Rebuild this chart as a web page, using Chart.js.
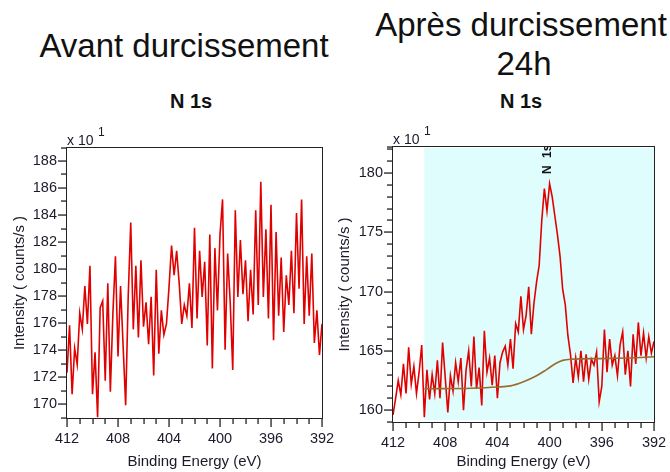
<!DOCTYPE html>
<html>
<head>
<meta charset="utf-8">
<script src="https://cdn.jsdelivr.net/npm/chart.js@4.4.1/dist/chart.umd.min.js"></script>
<style>
  html, body { margin: 0; padding: 0; background: #fff; }
  body { width: 670px; height: 472px; position: relative; overflow: hidden;
         font-family: "Liberation Sans", Arial, sans-serif; color: #111; }
  .t { position: absolute; white-space: nowrap; line-height: 1; transform: translateX(-50%); }
  .big { font-size: 33px; }
  .sub { font-size: 20px; font-weight: bold; }
  .mult { position: absolute; white-space: nowrap; line-height: 1; font-size: 14px; color: #1a1a2a; }
  .mult span { position: absolute; font-size: 12px; left: 31px; top: -7px; }
  canvas { position: absolute; top: 120px; display: block; }
  .frame { position: absolute; box-sizing: border-box; border: 1.5px solid #222; pointer-events: none; }
</style>
</head>
<body>
  <div class="t big" style="left:184px; top:29px;">Avant durcissement</div>
  <div class="t big" style="left:521px; top:8px;">Après durcissement</div>
  <div class="t big" style="left:524px; top:47px;">24h</div>
  <div class="t sub" style="left:191px; top:91px;">N 1s</div>
  <div class="t sub" style="left:521px; top:91px;">N 1s</div>

  <canvas id="avant" width="335" height="352" style="left:0px;"></canvas>
  <canvas id="apres" width="335" height="352" style="left:335px;"></canvas>

  <div class="mult" style="left:67px; top:133px;">x 10<span>1</span></div>
  <div class="mult" style="left:393px; top:132px;">x 10<span>1</span></div>

<script>
// Binding energy grid of the N 1s scans (eV), 0.2 eV steps from 412 down to 392
const energyStart = 412;
const energyStep = 0.2;
const pointCount = 101;
const bindingEnergy = Array.from({ length: pointCount }, (_, i) => +(energyStart - energyStep * i).toFixed(1));

// Intensity (counts/s, x 10^1) before curing
const intensityAvant = [
  172.0, 175.5, 170.4, 173.8, 172.6, 176.4, 175.2, 178.4, 175.6, 179.9,
  170.4, 173.5, 168.7, 176.8, 177.3, 171.4, 178.6, 170.6, 176.4, 180.6,
  173.2, 178.4, 174.0, 169.6, 177.6, 183.1, 175.2, 179.9, 174.6, 180.3,
  175.4, 177.2, 174.1, 177.6, 171.8, 179.6, 173.4, 176.6, 174.8, 175.6,
  178.3, 181.4, 179.2, 181.0, 178.6, 175.6, 177.0, 176.2, 178.6, 175.3,
  182.7, 176.0, 181.0, 177.6, 180.2, 174.0, 182.2, 172.3, 181.2, 176.6,
  182.2, 184.8, 173.7, 180.8, 177.2, 172.2, 184.0, 177.6, 181.8, 177.8,
  180.3, 175.8, 179.6, 176.3, 184.0, 177.0, 186.1, 177.6, 182.6, 176.0,
  184.4, 174.4, 182.4, 176.2, 180.5, 175.0, 179.2, 177.0, 181.0, 176.4,
  183.8, 178.2, 184.8, 175.6, 180.6, 176.2, 180.8, 174.2, 176.6, 173.3,
  175.6
];

// Intensity (counts/s, x 10^1) after 24 h curing
const intensityApres = [
  159.2, 160.6, 162.1, 160.9, 163.5, 161.0, 164.9, 161.8, 163.3, 161.0,
  162.8, 165.1, 159.0, 163.0, 160.5, 162.6, 161.0, 163.8, 160.6, 165.3,
  162.4, 159.4, 162.5, 161.2, 163.6, 162.0, 164.0, 159.6, 163.0, 164.6,
  161.6, 165.8, 161.4, 163.2, 160.0, 166.3, 162.8, 164.0, 161.7, 164.2,
  160.6, 163.6, 164.5, 165.0, 163.4, 165.6, 163.1, 166.9, 166.2, 169.2,
  166.4, 167.6, 170.0, 166.0, 168.6, 170.4, 171.8, 175.6, 178.3, 176.4,
  178.7, 177.6, 176.0, 174.4, 172.6, 169.8, 168.5, 165.9, 164.3, 161.9,
  164.0, 162.4, 164.6, 162.0, 164.3, 162.2, 163.9, 163.4, 164.5, 160.3,
  161.6, 166.4, 162.8, 165.6, 163.4, 164.2, 162.5, 165.1, 166.2, 162.6,
  164.6, 161.6, 166.0, 163.5, 167.0, 164.2, 166.1, 164.0, 165.8, 164.4,
  165.4
];

// Shirley-type background under the N 1s peak
const backgroundEnergy = [409.6, 406.0, 404.0, 403.0, 402.0, 401.0, 400.4, 400.0, 399.5, 399.0, 398.4, 396.0, 394.0, 392.0];
const backgroundIntensity = [161.4, 161.45, 161.55, 161.65, 162.0, 162.5, 162.9, 163.2, 163.55, 163.8, 163.9, 163.95, 164.0, 164.1];

// Fitting region and peak marker
const regionStart = 409.6;
const peakPosition = 400;
const peakName = ['N', '1s'];

// X tick labels and axis ranges
const energyLabels = [412, 408, 404, 400, 396, 392];
const avantRange = { min: 168.65, max: 188.6 };
const apresRange = { min: 158.6, max: 181.8 };

const FONT = '"Liberation Sans", Arial, sans-serif';
const INK = '#1a1a2a';
const FRAME = '#222222';

function toPoints(xs, ys) {
  return xs.map((x, i) => ({ x, y: ys[i] }));
}

const isEnergyLabel = v => energyLabels.includes(Math.round(v));

// Outward tick marks (long for labelled values), shaded region and peak tag
function framePlugin(cfg) {
  return {
    id: 'plotFrame',
    beforeDatasetsDraw(chart) {
      if (cfg.region == null) return;
      const { ctx, chartArea: a } = chart;
      const x0 = chart.scales.x.getPixelForValue(cfg.region);
      ctx.save();
      ctx.fillStyle = '#e0fdfd';
      ctx.fillRect(x0, a.top + 1, a.right - x0, a.bottom - a.top - 3);
      ctx.restore();
    },
    afterDatasetsDraw(chart) {
      const ctx = chart.ctx;
      const a = chart.chartArea;
      const xs = chart.scales.x;
      const ys = chart.scales.y;
      ctx.save();
      ctx.fillStyle = FRAME;
      for (const t of xs.ticks) {
        const px = Math.round(xs.getPixelForValue(t.value));
        const len = isEnergyLabel(t.value) ? 9 : 6;
        ctx.fillRect(px - 0.6, a.bottom, 1.3, len);
      }
      for (const t of ys.ticks) {
        const py = Math.round(ys.getPixelForValue(t.value));
        const len = cfg.yMajor(t.value) ? 9 : 6;
        ctx.fillRect(a.left - len, py - 0.6, len, 1.3);
      }
      if (cfg.peak) {
        const px = xs.getPixelForValue(cfg.peak.value);
        ctx.beginPath();
        ctx.rect(a.left, a.top, a.right - a.left, a.bottom - a.top);
        ctx.clip();
        ctx.translate(px + 1, a.top);
        ctx.rotate(-Math.PI / 2);
        ctx.fillStyle = '#111';
        ctx.font = 'bold 12px ' + FONT;
        ctx.textAlign = 'left';
        ctx.textBaseline = 'alphabetic';
        ctx.fillText(cfg.peak.text[0], -27, 0);
        ctx.fillText(cfg.peak.text[1], -11, 0);
      }
      ctx.restore();
    }
  };
}

function makeChart(id, cfg) {
  const datasets = [{
    data: toPoints(bindingEnergy, cfg.values),
    borderColor: '#e00000',
    borderWidth: 1.6,
    pointRadius: 0,
    tension: 0,
    order: 2
  }];
  if (cfg.background) {
    datasets.push({
      data: toPoints(backgroundEnergy, backgroundIntensity),
      borderColor: '#9a6a2e',
      borderWidth: 1.6,
      pointRadius: 0,
      cubicInterpolationMode: 'monotone',
      order: 1
    });
  }
  const canvas = document.getElementById(id);
  const chart = new Chart(canvas, {
    type: 'line',
    data: { datasets },
    options: {
      responsive: false,
      animation: false,
      events: [],
      layout: { padding: cfg.padding },
      plugins: {
        legend: { display: false },
        tooltip: { enabled: false }
      },
      scales: {
        x: {
          type: 'linear',
          reverse: true,
          min: 392,
          max: 412,
          bounds: 'data',
          grid: { display: false, drawTicks: false },
          border: { display: false },
          ticks: {
            stepSize: 1,
            autoSkip: false,
            maxRotation: 0,
            includeBounds: false,
            padding: 12,
            color: INK,
            font: { family: FONT, size: 14.5 },
            callback: v => isEnergyLabel(v) ? String(Math.round(v)) : ''
          },
          title: {
            display: true,
            text: 'Binding Energy (eV)',
            color: INK,
            font: { family: FONT, size: 15 },
            padding: { top: 0, bottom: 1 }
          },
          afterFit: s => { s.height = cfg.xHeight; s.paddingLeft = 0; s.paddingRight = 0; }
        },
        y: {
          type: 'linear',
          min: cfg.range.min,
          max: cfg.range.max,
          bounds: 'data',
          grid: { display: false, drawTicks: false },
          border: { display: false },
          ticks: {
            stepSize: 1,
            autoSkip: false,
            includeBounds: false,
            padding: 10,
            color: INK,
            font: { family: FONT, size: 14.5 },
            callback: v => cfg.yMajor(v) ? String(Math.round(v)) : ''
          },
          title: {
            display: true,
            text: 'Intensity ( counts/s )',
            color: INK,
            font: { family: FONT, size: 15 },
            padding: cfg.yTitlePad
          },
          afterFit: s => { s.width = cfg.yWidth; s.paddingTop = 0; s.paddingBottom = 0; }
        }
      }
    },
    plugins: [framePlugin(cfg)]
  });

  // Box round the plotting area, placed from the layout Chart.js computed
  const a = chart.chartArea;
  const box = document.createElement('div');
  box.className = 'frame';
  box.style.left = (canvas.offsetLeft + a.left - 0.75) + 'px';
  box.style.top = (canvas.offsetTop + a.top - 0.75) + 'px';
  box.style.width = (a.right - a.left + 1.5) + 'px';
  box.style.height = (a.bottom - a.top + 1.5) + 'px';
  document.body.appendChild(box);
  return chart;
}

makeChart('avant', {
  values: intensityAvant,
  range: avantRange,
  yMajor: v => Math.round(v) % 2 === 0,
  padding: { left: 6, right: 13, top: 28, bottom: 0 },
  yWidth: 61,
  xHeight: 54,
  yTitlePad: { top: 5, bottom: 0 }
});

makeChart('apres', {
  values: intensityApres,
  range: apresRange,
  yMajor: v => Math.round(v) % 5 === 0,
  background: true,
  region: regionStart,
  peak: { value: peakPosition, text: peakName },
  padding: { left: 1, right: 16, top: 27, bottom: 0 },
  yWidth: 57,
  xHeight: 50,
  yTitlePad: { top: 0, bottom: 0 }
});
</script>
</body>
</html>
